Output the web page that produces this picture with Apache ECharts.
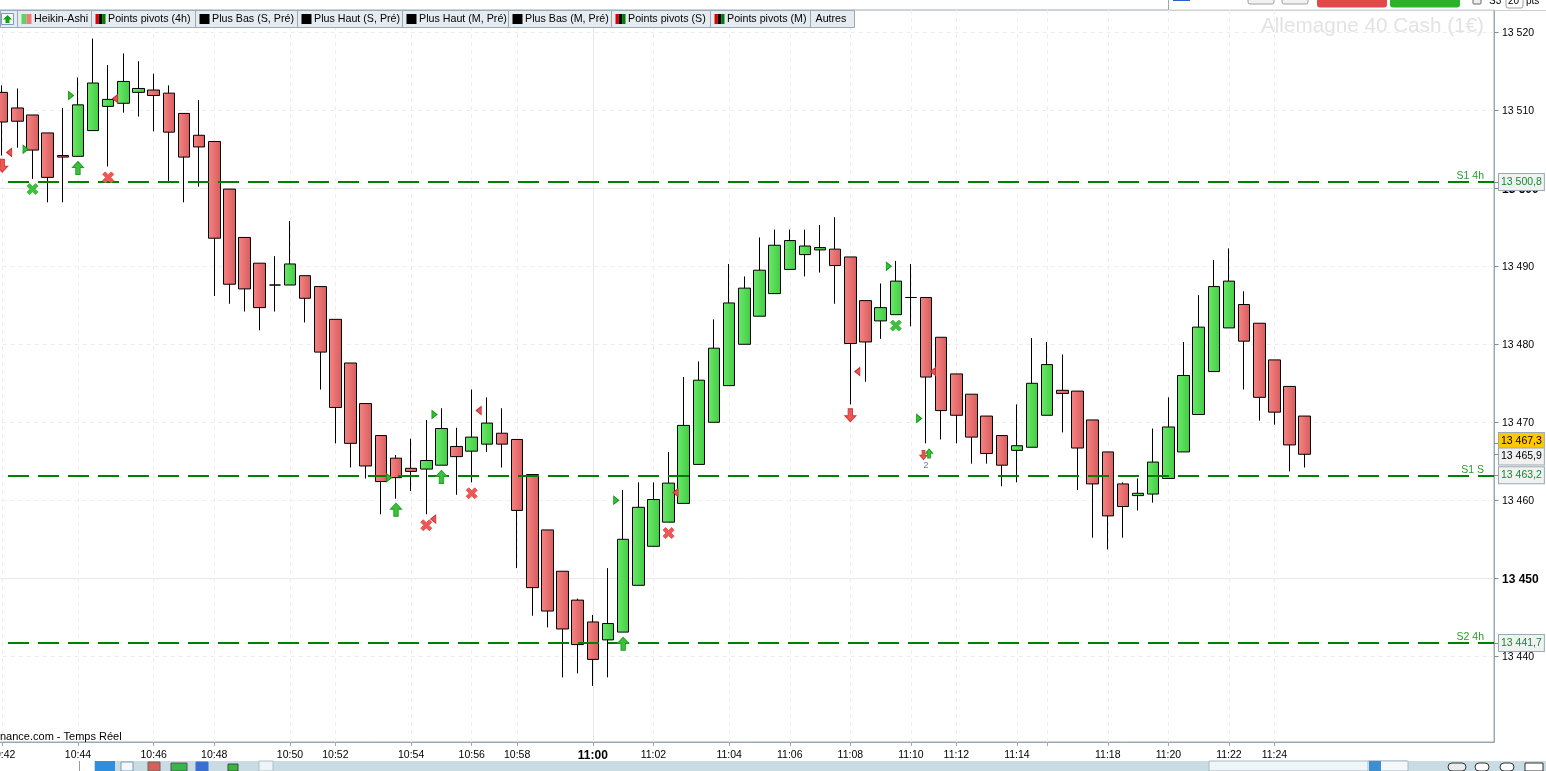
<!DOCTYPE html>
<html><head><meta charset="utf-8">
<style>html,body{margin:0;padding:0;background:#fff;overflow:hidden}#c{width:1546px;height:771px}</style>
<script src="https://cdn.jsdelivr.net/npm/echarts@6/dist/echarts.min.js"></script>
</head><body><div id="c"></div>
<script>
const categories = ['10:42','','','','','10:44','','','','','10:46','','','','10:48','','','','','10:50','','','10:52','','','','','10:54','','','','10:56','','','10:58','','','','','11:00','','','','11:02','','','','','11:04','','','','11:06','','','','11:08','','','','11:10','','','11:12','','','','11:14','','','','','','11:18','','','','11:20','','','','11:22','','','11:24','','','','','','','','','','','','','',''];
const tickIndexes = [0,5,10,14,19,22,27,31,34,39,43,48,52,56,60,63,67,69,73,77,81,84];
const boldTime = '11:00';
const opens  = [13512.3,13510.3,13509.4,13507.1,13504.2,13504.1,13507.4,13510.5,13510.9,13512.3,13512.6,13512.2,13509.6,13506.8,13506.0,13499.9,13493.7,13490.4,13487.6,13487.6,13488.8,13487.4,13483.2,13477.6,13472.4,13468.3,13465.4,13464.1,13464.0,13464.5,13466.9,13466.3,13467.2,13468.6,13467.8,13463.3,13456.2,13450.9,13447.2,13444.4,13442.1,13443.1,13449.1,13454.1,13457.2,13459.6,13464.6,13470.0,13474.7,13480.0,13483.6,13486.5,13489.6,13491.5,13492.1,13492.2,13491.2,13485.6,13483.0,13483.8,13486.0,13486.0,13480.9,13476.2,13473.6,13470.8,13468.3,13466.4,13466.8,13470.9,13474.1,13474.0,13470.3,13466.2,13462.1,13460.6,13460.8,13462.8,13466.2,13471.0,13476.5,13482.1,13485.1,13482.7,13478.0,13474.6,13470.8];
const closes = [13508.5,13508.6,13504.9,13501.4,13504.0,13510.7,13513.5,13511.4,13513.7,13512.8,13511.9,13507.2,13504.0,13505.3,13493.6,13487.7,13487.1,13484.7,13487.6,13490.3,13485.9,13479.0,13471.9,13467.3,13464.4,13462.4,13462.9,13463.7,13465.1,13469.2,13465.6,13468.1,13469.9,13467.2,13458.7,13448.8,13445.8,13443.5,13441.5,13439.6,13444.2,13455.0,13459.1,13460.1,13462.2,13469.6,13475.4,13479.5,13485.3,13487.2,13489.5,13492.7,13493.3,13492.6,13492.4,13490.1,13480.1,13480.3,13484.7,13488.1,13486.0,13475.8,13471.5,13470.9,13468.1,13466.0,13464.5,13467.0,13475.0,13477.4,13473.7,13466.7,13462.1,13458.0,13459.2,13460.9,13464.9,13469.4,13476.0,13482.2,13487.4,13488.1,13480.4,13473.2,13471.3,13467.1,13465.9];
const lows   = [13504.2,13505.2,13501.2,13498.2,13498.2,13504.1,13507.4,13502.8,13509.7,13509.2,13507.3,13500.9,13498.2,13500.2,13486.2,13485.2,13484.2,13481.8,13484.2,13487.6,13482.8,13474.2,13467.3,13464.2,13462.8,13458.2,13460.2,13461.2,13458.2,13464.5,13460.7,13462.3,13466.2,13464.2,13451.3,13445.2,13443.7,13437.3,13437.8,13436.2,13437.3,13443.1,13449.1,13454.1,13457.2,13459.6,13464.6,13470.0,13474.7,13480.0,13483.6,13486.5,13489.6,13488.7,13489.2,13485.2,13472.3,13475.2,13480.7,13483.8,13482.3,13467.3,13467.8,13467.3,13464.7,13464.7,13461.8,13462.3,13466.8,13470.9,13468.7,13461.3,13455.2,13453.7,13455.2,13458.7,13459.7,13462.8,13466.2,13471.0,13476.5,13482.1,13474.2,13470.2,13469.7,13463.7,13464.2];
const highs  = [13513.2,13512.8,13509.4,13507.1,13510.3,13514.2,13519.2,13515.8,13517.3,13516.3,13514.7,13513.2,13509.6,13511.3,13506.0,13499.9,13493.7,13490.4,13491.3,13495.8,13488.8,13487.4,13483.2,13477.6,13472.4,13468.3,13465.8,13467.9,13470.3,13471.8,13469.3,13474.2,13473.2,13471.8,13467.8,13463.3,13456.2,13450.9,13447.4,13445.3,13451.3,13461.3,13462.3,13462.3,13466.2,13475.8,13477.8,13483.2,13490.3,13488.7,13493.7,13494.7,13494.7,13494.7,13495.3,13496.3,13491.2,13485.6,13487.8,13490.7,13490.3,13486.0,13480.9,13476.2,13473.6,13470.8,13468.3,13472.3,13480.8,13480.3,13478.7,13474.0,13470.3,13466.2,13462.3,13462.8,13469.2,13473.2,13480.3,13486.3,13490.8,13492.3,13486.8,13482.7,13478.0,13474.6,13470.8];
const triRight = [[2,13505.0],[5,13511.9],[26,13462.9],[29,13471.0],[41,13460.0],[59,13490.0],[61,13470.5]];
const triLeft  = [[0,13504.6],[7,13511.5],[28,13457.6],[31,13471.5],[44,13461.0],[56,13476.5],[61,13476.5]];
const arrowUp  = [[5,13502.6],[26,13458.8],[29,13463.0],[41,13441.6]];
const arrowDown= [[0,13502.9],[56,13470.9]];
const crossGreen=[[2,13499.9],[59,13482.4]];
const crossRed = [[7,13501.4],[28,13456.8],[31,13460.9],[44,13455.8]];
const smallUp  = [[61,13466.0]];
const smallDown= [[61,13465.8]];
const countMark= [[61,13464.4,'2']];
const yTickValues = [13440,13450,13460,13470,13480,13490,13500,13510,13520];
const boldTicks = [13450,13500];
const pivotLevels = [[13500.8,'S1 4h','13 500,8'],[13463.2,'S1 S','13 463,2'],[13441.7,'S2 4h','13 441,7']];
const priceTags = [[13467.3,'13 467,3'],[13465.9,'13 465,9']];
const tabLabels = ['Heikin-Ashi','Points pivots (4h)','Plus Bas (S, Pré)','Plus Haut (S, Pré)','Plus Haut (M, Pré)','Plus Bas (M, Pré)','Points pivots (S)','Points pivots (M)','Autres'];
const tabEdges = [17.5,91.5,195.5,297.5,402.5,508.5,611.5,710.5,810.5,854.5];
const tabIcons = [['#5fd35f','#f07a7a'],['#e00000','#000','#007a00'],['#000'],['#000'],['#000'],['#000'],['#e00000','#000','#007a00'],['#e00000','#000','#007a00'],[]];
const watermark = 'Allemagne 40 Cash (1€)';
const footer = 'nance.com - Temps Réel';

const FONT = '"Liberation Sans", Arial, sans-serif';
const grad = (a,b)=>({type:'linear',x:0,y:0,x2:1,y2:0,colorStops:[{offset:0,color:a},{offset:1,color:b}]});
const fmtY = v => String(v).replace(/(\d{2})(\d{3})/,'$1 $2');
const ARROW_UP='path://M5,0 L10,6 L7,6 L7,13 L3,13 L3,6 L0,6 Z';
const ARROW_DOWN='path://M3,0 L7,0 L7,7 L10,7 L5,13 L0,7 L3,7 Z';
const CROSS='path://M2.5,0 L5.5,3 L8.5,0 L11,2.5 L8,5.5 L11,8.5 L8.5,11 L5.5,8 L2.5,11 L0,8.5 L3,5.5 L0,2.5 Z';
const TRI_R='path://M0,0 L5,4 L0,8 Z';
const TRI_L='path://M5,0 L0,4 L5,8 Z';
const GREEN='#3fbf3f', GREEN_B='#1fa51f', RED='#ee5555', RED_B='#cf3a3a';
const HIDDEN='rgba(0,0,0,0)';

function marker(name,data,symbol,size,color,border,offset){
  return {name,type:'scatter',data,symbol,symbolSize:size,symbolOffset:offset||[0,0],z:6,silent:true,animation:false,
    itemStyle:{color,borderColor:border,borderWidth:1,opacity:1}};
}
const gridLineStyle=(solid)=>({color:solid?'#e8e8e8':'#eeeeee',type:solid?'solid':[4,4],width:1});
const gridLines = [];
yTickValues.forEach(v=>gridLines.push({yAxis:v,lineStyle:gridLineStyle(boldTicks.includes(v))}));
tickIndexes.forEach(i=>gridLines.push({xAxis:i,lineStyle:gridLineStyle(categories[i]===boldTime)}));

const tagLabel=(text,color,bg,off)=>({show:true,position:'end',distance:5,formatter:text,color,fontFamily:FONT,fontSize:10.5,
   backgroundColor:bg,borderColor:'#9aa9b3',borderWidth:1,padding:[3,2,2,2],offset:off||[0,0]});
const levelLines=[];
pivotLevels.forEach(p=>{
  levelLines.push({yAxis:p[0],lineStyle:{color:'#008000',width:2,type:[21,9],dashOffset:16.65},label:tagLabel(p[2],'#108a30','#f0f2f2')});
  levelLines.push({yAxis:p[0],lineStyle:{color:HIDDEN,width:1},label:{show:true,position:'insideEndTop',distance:[10,1],formatter:p[1],color:'#2a9a2a',fontFamily:FONT,fontSize:10.5,offset:[0,1]}});
});
priceTags.forEach((p,i)=>{
  levelLines.push({yAxis:p[0],lineStyle:{color:HIDDEN,width:1},label:tagLabel(p[1],'#000',i===0?'#ffc800':'#f0f0f0',[0,i===0?-2.4:2.3])});
});

const graphics=[];
const rect=(x,y,w,h,fill,stroke,r)=>graphics.push({type:'rect',silent:true,z:50,shape:{x,y,width:w,height:h,r:r||0},style:{fill,stroke:stroke||null,lineWidth:stroke?1:0}});
const text=(x,y,t,fs,fill,align)=>graphics.push({type:'text',silent:true,z:51,x,y,style:{text:t,font:fs+'px '+FONT,fill,textAlign:align||'left',textVerticalAlign:'middle'}});
// tabs
rect(0.5,10.5,17,17,'#e4ecf2','#9aa9b3');
rect(1.5,13.5,12,11,'#f4f9f4','#7d9ab8');
graphics.push({type:'polygon',silent:true,z:52,shape:{points:[[7.5,15],[12,19.5],[9.5,19.5],[9.5,23],[5.5,23],[5.5,19.5],[3,19.5]]},style:{fill:'#16a016'}});
tabLabels.forEach((t,i)=>{
  const x0=tabEdges[i],x1=tabEdges[i+1];
  rect(x0,10.5,x1-x0,17,'#e4ecf2','#9aa9b3');
  const ic=tabIcons[i];
  let tx=x0+5;
  if(ic.length){
    const cw=10/ic.length;
    ic.forEach((c,k)=>rect(x0+4+k*cw,14,cw,10,c));
    tx=x0+16.5;
  }
  text(tx,19,t,10.7,'#000');
});
// watermark
graphics.push({type:'text',silent:true,z:5,x:1484,y:26,style:{text:watermark,font:'20.7px '+FONT,fill:'#e3e3e3',textAlign:'right',textVerticalAlign:'middle'}});
// footer
text(0,736.5,footer,11,'#000');
// top chrome
rect(1168,0,378,9.5,'#fff');
graphics.push({type:'line',silent:true,z:51,shape:{x1:1168.5,y1:0,x2:1168.5,y2:10},style:{stroke:'#9aa9b3',lineWidth:1}});
rect(1173,0,17,1,'#2563c9');
rect(1248,-4,26,8,'#f2f2f2','#a0a0a0',2);
rect(1282,-4,26,8,'#f2f2f2','#a0a0a0',2);
rect(1317,-4,70,11.5,'#e24a4a',null,3);
rect(1390,-4,70,11.5,'#2bb22b',null,3);
rect(1473,-4,8,8,'#eee','#666',1);
text(1489,1,'S3',10,'#000');
rect(1506,-4,17,12,'#fff','#a0a0a0',2);
text(1508,1,'20',10,'#000');
text(1526,1,'pts',10,'#000');
rect(1494,10,52,1,'#c5d0d6');
// bottom chrome
rect(0,761,1546,10,'#c9dbe3');
rect(0,761,79,10,'#ffffff');
graphics.push({type:'line',silent:true,z:51,shape:{x1:79.5,y1:761,x2:79.5,y2:771},style:{stroke:'#999',lineWidth:1}});
rect(80,761,14,10,'#ffffff');
rect(95,761,20,10,'#2e8fdf');
rect(121,762,12,9,'#f4f8fc','#7d9ab8');
rect(148,762,12,9,'#d8605a','#666');
rect(171,763,16,8,'#39b54a','#555');
rect(196,762,12,9,'#3a6fd0','#3a6fd0');
rect(228,764,10,7,'#38b838','#444');
rect(259,761,14,10,'#eef4f8','#b0c0c8');
rect(1209,761,198,10,'#eef6f8','#a8bcc6');
rect(1368,761,40,10,'#f4f8fa','#a8bcc6');
rect(1369,761,12,10,'#3d8fd0');
rect(1448,763,18,8,'#e8ecf0','#333',8);
rect(1475,763,14,8,'#fff','#333',8);
rect(1500,763,14,8,'#fff','#333',8);
rect(1525,763,18,8,'#fff','#333');

const option={
  animation:false,
  backgroundColor:'#ffffff',
  grid:{left:-5.35,top:10,width:1499.35,height:732,show:true,borderColor:'#9aa9b3',borderWidth:1,backgroundColor:'#fff',containLabel:false,outerBoundsMode:'none'},
  xAxis:{type:'category',data:categories,boundaryGap:true,position:'bottom',
    axisLine:{show:true,onZero:false,lineStyle:{color:'#9aa9b3',width:1}},
    axisTick:{show:true,alignWithLabel:true,length:4,interval:(i)=>tickIndexes.includes(i),lineStyle:{color:'#9aa9b3'}},
    splitLine:{show:false},
    axisLabel:{show:true,interval:0,hideOverlap:false,margin:8,color:'#000',fontFamily:FONT,fontSize:10.5,showMinLabel:true,
      formatter:v=>v===boldTime?'{b|'+v+'}':v,rich:{b:{fontWeight:'bold',fontSize:12,color:'#000',fontFamily:FONT}}}},
  yAxis:{type:'value',position:'right',min:13429.01,max:13522.86,scale:true,
    axisLine:{show:true,onZero:false,lineStyle:{color:'#9aa9b3',width:1}},
    axisTick:{show:true,length:4.5,customValues:yTickValues.concat(pivotLevels.map(p=>p[0]),priceTags.map(p=>p[0])),lineStyle:{color:'#7f8f98'}},
    splitLine:{show:false},
    axisLabel:{show:true,margin:8,padding:[2,0,0,0],customValues:yTickValues,color:'#000',fontFamily:FONT,fontSize:10.5,
      formatter:v=>boldTicks.includes(v)?'{b|'+fmtY(v)+'}':fmtY(v),rich:{b:{fontWeight:'bold',fontSize:12,color:'#000',fontFamily:FONT}}}},
  series:[
    {name:'grid',type:'line',data:[],z:1,silent:true,symbol:'none',animation:false,
      markLine:{z:1,silent:true,symbol:'none',animation:false,label:{show:false},data:gridLines}},
    {name:'Heikin-Ashi',type:'candlestick',z:3,barWidth:12,large:false,silent:true,animation:false,clip:true,
      data:opens.map((o,i)=>[o,closes[i],lows[i],highs[i]]),
      itemStyle:{color:grad('#6bea6b','#42cc42'),color0:grad('#f68585','#d85c5c'),borderColor:'#000',borderColor0:'#000',borderColorDoji:'#000',borderWidth:1}},
    {name:'levels',type:'line',data:[],z:4,silent:true,symbol:'none',animation:false,
      markLine:{z:4,silent:true,symbol:'none',animation:false,data:levelLines}},
    marker('triRight',triRight,TRI_R,[5,8],'#35c035','#119a11',[-7,0]),
    marker('triLeft',triLeft,TRI_L,[5,8],'#ee5555','#c43030',[7,0]),
    marker('arrowUp',arrowUp,ARROW_UP,[11,13],GREEN,GREEN_B),
    marker('arrowDown',arrowDown,ARROW_DOWN,[11,13],RED,RED_B),
    marker('crossGreen',crossGreen,CROSS,[11,11],GREEN,GREEN),
    marker('crossRed',crossRed,CROSS,[11,11],RED,RED),
    marker('smallUp',smallUp,ARROW_UP,[7,9],GREEN,GREEN_B,[3,0]),
    marker('smallDown',smallDown,ARROW_DOWN,[7,9],RED,RED_B,[-2.6,0]),
    {name:'count',type:'scatter',data:countMark,symbolSize:1,z:6,silent:true,animation:false,itemStyle:{color:'transparent'},
      label:{show:true,position:'inside',formatter:p=>p.data[2],fontFamily:FONT,fontSize:9,color:'#3a5a80'}}
  ],
  graphic:{elements:graphics}
};
const chart=echarts.init(document.getElementById('c'),null,{width:1546,height:771});
chart.setOption(option);
</script></body></html>
